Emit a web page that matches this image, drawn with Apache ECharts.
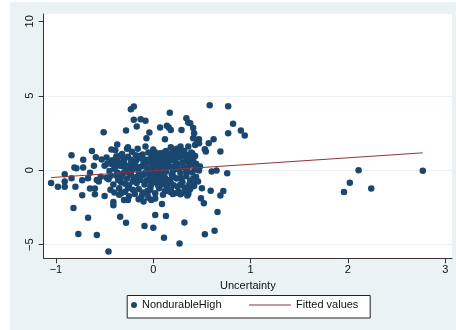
<!DOCTYPE html>
<html>
<head>
<meta charset="utf-8">
<script src="https://cdn.jsdelivr.net/npm/echarts@6/dist/echarts.min.js"></script>
<style>
  html, body { margin: 0; padding: 0; background: #ffffff; }
  #chart { position: absolute; left: 10px; top: 2px; width: 446px; height: 328px; }
</style>
</head>
<body>
<div id="chart"></div>
<script>
// Uncertainty (x) vs. NondurableHigh (y)
const outerPoints = [
  [-1.05,-0.85],[-0.98,-1.10],[-0.91,-0.27],[-0.91,-0.76],[-0.91,-1.10],[-0.84,1.01],[-0.84,-0.54],
  [-0.82,-2.53],[-0.81,0.18],[-0.79,0.13],[-0.80,-1.10],[-0.77,-4.28],[-0.73,-1.68],[-0.73,-0.67],
  [-0.72,0.70],[-0.72,0.18],[-0.67,-3.18],[-0.67,-0.54],[-0.65,-1.23],[-0.65,-0.16],[-0.63,1.30],
  [-0.61,0.31],[-0.60,-1.23],[-0.60,-1.61],[-0.58,-4.35],[-0.58,-0.65],[-0.59,0.87],[-0.56,-0.76],
  [-0.54,-0.43],[-0.53,0.72],[-0.51,2.56],[-0.50,-1.73],[-0.50,0.31],[-0.48,0.85],[-0.46,-0.61],
  [-0.46,-5.45],[-0.44,-0.38],[-0.43,1.39],[-0.42,0.40],[-0.41,-2.13],[-0.41,-2.35],[-0.39,0.74],
  [-0.39,0.25],[-0.38,0.92],[-0.37,1.73],[-0.36,-0.65],[-0.34,-3.12],[-0.33,-1.55],[-0.32,0.92],
  [-0.30,-2.00],[-0.28,-3.52],[-0.28,2.67],[-0.26,-2.00],[-0.26,1.55],[-0.23,4.10],[-0.20,4.28],
  [-0.20,3.39],[-0.17,2.94],[-0.13,3.43],[-0.08,3.32],[-0.09,-3.74],[-0.07,2.15],[-0.04,2.53],
  [0.00,-3.86],[0.02,-3.00],[0.07,2.87],[0.09,-2.26],[0.11,-4.53],[0.12,2.09],[0.13,-3.07],
  [0.14,2.98],[0.16,2.87],[0.17,3.86],[0.18,2.71],[0.29,2.71],[0.27,-4.91],[0.32,-3.50],
  [0.34,3.50],[0.36,3.21],[0.38,3.16],[0.41,2.83],[0.42,2.49],[0.41,2.15],[0.43,1.70],
  [0.45,2.04],[0.47,2.09],[0.50,-1.21],[0.49,-1.88],[0.52,-2.22],[0.53,-4.30],[0.58,4.37],
  [0.57,1.82],[0.59,-1.37],[0.62,2.09],[0.63,-4.06],[0.65,-0.02],[0.66,-2.80],[0.69,-1.70],
  [0.69,1.26],[0.72,-1.39],[0.76,-0.20],[0.77,4.30],[0.77,2.49],[0.82,3.12],[0.90,2.67],
  [0.94,2.33],[1.96,-1.46],[2.02,-0.83],[2.11,0.00],[2.24,-1.23],[2.77,-0.04],
  [0.53,1.41],[0.54,1.26],[0.48,0.25],[0.47,-0.02],[0.44,0.43],[0.60,-0.09],[0.47,1.82],
  [0.40,1.14],[0.38,0.92],[0.36,1.59],[0.28,1.59],[0.46,-0.76],[0.41,-0.99],[0.36,-1.43],
  [0.29,-1.55],[0.28,-1.61]
];

const corePoints = [
  [-0.40,0.10],[-0.38,-0.35],[-0.36,0.55],[-0.35,-1.20],[-0.34,0.30],[-0.33,-0.80],[-0.32,1.10],
  [-0.31,-0.20],[-0.30,0.65],[-0.29,-1.45],[-0.28,0.05],[-0.27,-0.55],[-0.26,0.90],[-0.25,-1.00],
  [-0.24,0.35],[-0.23,-0.30],[-0.22,1.25],[-0.21,-0.75],[-0.20,0.15],[-0.19,-1.60],[-0.18,0.60],
  [-0.17,-0.45],[-0.16,1.45],[-0.15,-0.10],[-0.15,-1.25],[-0.14,0.80],[-0.13,-0.65],[-0.12,0.25],
  [-0.12,-1.75],[-0.11,1.05],[-0.10,-0.30],[-0.10,0.45],[-0.09,-0.95],[-0.08,1.60],[-0.08,-0.15],
  [-0.07,0.70],[-0.06,-1.40],[-0.06,0.10],[-0.05,-0.60],[-0.05,1.20],[-0.04,-0.25],[-0.03,0.50],
  [-0.03,-1.10],[-0.02,0.85],[-0.02,-0.45],[-0.01,0.20],[0.00,-0.80],[0.00,1.40],[0.01,-0.05],
  [0.02,0.60],[0.02,-1.55],[0.03,-0.35],[0.04,0.95],[0.05,-0.70],[0.05,0.30],[0.06,-1.20],
  [0.07,1.15],[0.08,-0.20],[0.08,0.55],[0.09,-0.95],[0.10,0.15],[0.10,-1.65],[0.11,0.80],
  [0.12,-0.50],[0.13,1.30],[0.13,-0.10],[0.14,0.45],[0.15,-1.30],[0.16,0.95],[0.17,-0.65],
  [0.18,0.25],[0.18,1.55],[0.19,-0.30],[0.20,0.70],[0.21,-1.00],[0.22,0.10],[0.23,1.10],
  [0.24,-0.55],[0.25,0.40],[0.26,-1.45],[0.27,0.85],[0.28,-0.20],[0.29,1.35],[0.30,-0.80],
  [0.31,0.20],[0.32,-1.15],[0.33,0.60],[0.34,-0.40],[0.35,1.00],[0.36,-1.60],[0.37,0.35],
  [0.38,-0.70],[0.39,1.20],[0.40,-0.15],[0.41,0.75],[0.42,-1.05],[0.43,0.05],[0.44,-0.45],
  [-0.45,-0.05],[-0.43,0.65],[-0.41,-0.95],[-0.39,1.35],[-0.37,-0.15],[-0.35,0.95],[-0.33,-0.45],
  [-0.31,0.25],[-0.29,-0.90],[-0.27,1.45],[-0.25,-0.15],[-0.23,0.70],[-0.21,-1.30],[-0.19,0.40],
  [-0.17,-0.85],[-0.15,0.95],[-0.13,-0.25],[-0.11,-1.50],[-0.09,0.30],[-0.07,-0.70],[-0.05,0.65],
  [-0.03,-1.30],[-0.01,1.00],[0.01,-0.55],[0.03,0.35],[0.05,-1.00],[0.07,0.75],[0.09,-0.40],
  [0.11,1.20],[0.13,-0.85],[0.15,0.20],[0.17,-1.45],[0.19,1.00],[0.21,-0.45],[0.23,0.50],
  [0.25,-1.10],[0.27,1.20],[0.29,-0.55],[0.31,0.95],[0.33,-1.40],[0.35,0.15],[0.37,-0.95],
  [0.39,0.55],[0.41,-0.55],[0.43,0.95],
  [-0.42,0.40],[-0.36,-0.60],[-0.30,0.40],[-0.26,-1.20],[-0.22,0.00],[-0.18,1.00],[-0.14,-0.55],
  [-0.10,0.70],[-0.06,-1.60],[-0.04,0.05],[-0.01,-0.30],[0.02,1.20],[0.04,-0.10],[0.06,0.90],
  [0.10,-0.60],[0.12,0.35],[0.14,-1.05],[0.16,0.60],[0.20,-0.10],[0.22,-1.55],[0.24,0.95],
  [0.28,-0.95],[0.30,0.50],[0.32,1.30],[0.34,-0.10],[0.36,0.75],[0.38,-1.25],[0.40,0.40],
  [0.42,-0.80],[-0.48,-0.50],[-0.47,0.45],[-0.44,-1.30],[-0.20,-0.50],[-0.16,0.20],[-0.08,0.40],
  [-0.02,-0.95],[0.00,0.50],[0.08,0.10],[0.12,-1.40],[0.18,-0.85],[0.26,0.05],[0.20,1.35],
  [0.24,1.45],[0.15,1.10],[0.10,1.00],[0.28,1.10],[0.22,0.85],
  [0.27,-1.55],[0.35,-1.70],[0.18,-1.30],[0.20,-1.60],[-0.05,-1.85],[-0.02,-2.00],[0.02,-1.90],
  [-0.15,-1.95],[-0.25,-1.75],[-0.35,-1.65],[-0.40,-1.50],[-0.10,-2.10]
];

// Linear fit drawn across the range of Uncertainty
const fitX = [-1.05, 2.77];
const fitY = [-0.49, 1.17];

const xTicks = [-1, 0, 1, 2, 3];
const yTicks = [-5, 0, 5, 10];
const yGrid = [-5, 0, 5];

const scatterData = outerPoints.concat(corePoints);
const fitData = fitX.map((x, i) => [x, fitY[i]]);

const FONT = 'Liberation Sans, Arial, sans-serif';
const minus = v => String(v).replace('-', '\u2212');
const legendText = { fontFamily: FONT, fontSize: 11, color: '#111' };

const chart = echarts.init(document.getElementById('chart'), null, { renderer: 'canvas' });
chart.setOption({
  backgroundColor: '#eaf2f3',
  animation: false,
  textStyle: { fontFamily: FONT },
  grid: {
    left: 33.7, right: 4, top: 12, bottom: 71.7,
    show: true, backgroundColor: '#ffffff', borderWidth: 0
  },
  xAxis: {
    type: 'value', min: -1.126, max: 3.07,
    name: 'Uncertainty', nameLocation: 'middle', nameGap: 16,
    nameTextStyle: { fontFamily: FONT, fontSize: 11, color: '#111' },
    axisLine: { show: true, onZero: false, lineStyle: { color: '#333', width: 1 } },
    axisTick: { show: true, length: 5, customValues: xTicks, lineStyle: { color: '#333' } },
    axisLabel: { customValues: xTicks, margin: 6, fontFamily: FONT, fontSize: 11, color: '#111', formatter: minus },
    splitLine: { show: false }
  },
  yAxis: {
    type: 'value', min: -5.91, max: 10.49,
    axisLine: { show: true, onZero: false, lineStyle: { color: '#333', width: 1 } },
    axisTick: { show: true, length: 5, customValues: yTicks, lineStyle: { color: '#333' } },
    axisLabel: { customValues: yTicks, rotate: 90, margin: 8, fontFamily: FONT, fontSize: 11, color: '#111', formatter: minus },
    splitLine: { show: false }
  },
  legend: [
    {
      data: [{ name: 'NondurableHigh', icon: 'circle' }],
      left: 121, top: 297.5, padding: 0, itemWidth: 6, itemHeight: 6,
      textStyle: legendText
    },
    {
      data: [{ name: 'Fitted values', icon: 'rect' }],
      left: 239, top: 297.5, padding: 0, itemWidth: 42, itemHeight: 1.2,
      textStyle: legendText
    }
  ],
  graphic: [
    {
      type: 'rect', left: 116.7, top: 293, z: 0,
      shape: { width: 243, height: 22.5 },
      style: { fill: '#ffffff', stroke: '#222', lineWidth: 1 }
    }
  ],
  series: [
    {
      name: 'NondurableHigh', type: 'scatter', data: scatterData,
      symbol: 'circle', symbolSize: 6.5,
      itemStyle: { color: '#1a476f', opacity: 1 },
      markLine: {
        silent: true, symbol: 'none', label: { show: false },
        lineStyle: { color: '#eaf2f3', width: 1, type: 'solid' },
        data: yGrid.map(v => ({ yAxis: v })),
        z: 0
      },
      z: 3
    },
    {
      name: 'Fitted values', type: 'line', data: fitData,
      symbol: 'none', showSymbol: false,
      lineStyle: { color: '#90353b', width: 1 },
      itemStyle: { color: '#90353b' },
      z: 4
    }
  ]
});
</script>
</body>
</html>
